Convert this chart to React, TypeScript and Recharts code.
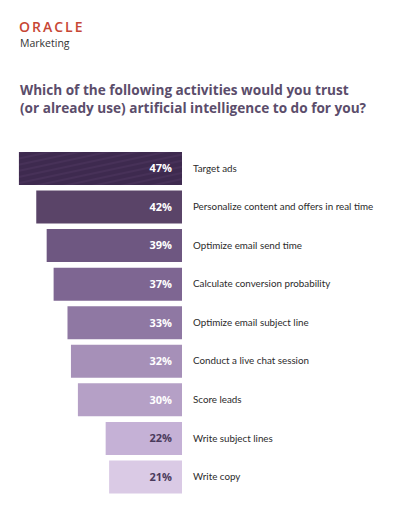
import React from "react";
import { BarChart, Bar, XAxis, YAxis, Cell, LabelList } from "recharts";

const activities = [
  "Target ads",
  "Personalize content and offers in real time",
  "Optimize email send time",
  "Calculate conversion probability",
  "Optimize email subject line",
  "Conduct a live chat session",
  "Score leads",
  "Write subject lines",
  "Write copy",
];
const shares = [47, 42, 39, 37, 33, 32, 30, 22, 21];

const fills = [
  "url(#topPattern)",
  "#5a4468",
  "#6e5781",
  "#7e6692",
  "#8f78a3",
  "#a690b8",
  "#b5a0c6",
  "#c5b1d6",
  "#dacae5",
];
const labelColors = ["#fff", "#fff", "#fff", "#fff", "#fff", "#fff", "#fff", "#4a3a5c", "#4a3a5c"];

const rows = activities.map((name, i) => ({ name, value: shares[i] }));

const FONT = "'Open Sans', Lato, sans-serif";

function PctLabel(props: any) {
  const { x, y, width, height, value, index } = props;
  const right = Math.max(x, x + width) - 10;
  const i = typeof index === "number" ? index : shares.indexOf(value);
  return (
    <text
      x={right}
      y={y + height / 2}
      dy="0.35em"
      textAnchor="end"
      fill={labelColors[i]}
      fontSize={11}
      fontWeight={700}
      fontFamily={FONT}
    >
      {value}%
    </text>
  );
}

function NameTick(props: any) {
  const { x, y, payload } = props;
  return (
    <text x={x} y={y} dy="0.35em" textAnchor="start" fill="#2b2b2b" fontSize={9.8} fontFamily="Lato, sans-serif">
      {payload.value}
    </text>
  );
}

export default function App() {
  return (
    <div style={{ position: "absolute", left: 0, top: 0, width: 394, height: 512, background: "#fff" }}>
      <div
        style={{
          position: "absolute",
          left: 19,
          top: 20,
          fontFamily: FONT,
          color: "#c74634",
          fontSize: 14,
          letterSpacing: 2,
          fontWeight: 600,
          lineHeight: "14px",
        }}
      >
        ORACLE
      </div>
      <div
        style={{
          position: "absolute",
          left: 20,
          top: 37,
          fontFamily: FONT,
          color: "#333",
          fontSize: 10.5,
          lineHeight: "13px",
        }}
      >
        Marketing
      </div>
      <div
        style={{
          position: "absolute",
          left: 20,
          top: 81,
          fontFamily: FONT,
          color: "#5b4d6b",
          fontSize: 13.6,
          fontWeight: 700,
          lineHeight: "18px",
        }}
      >
        Which of the following activities would you trust
        <br />
        (or already use) artificial intelligence to do for you?
      </div>
      <div style={{ position: "absolute", left: 0, top: 0 }}>
        <BarChart
          width={394}
          height={512}
          data={rows}
          layout="vertical"
          margin={{ top: 149, right: 0, bottom: 16, left: 0 }}
          barSize={33}
        >
          <defs>
            <pattern id="topPattern" width="6" height="6" patternUnits="userSpaceOnUse" patternTransform="rotate(-12)">
              <rect width="6" height="6" fill="#3e2a4f" />
              <line x1="0" y1="3" x2="6" y2="3" stroke="#6a5480" strokeWidth="0.6" opacity="0.6" />
            </pattern>
          </defs>
          <XAxis type="number" domain={[0, 52.45]} reversed hide />
          <YAxis
            type="category"
            dataKey="name"
            orientation="right"
            width={212}
            axisLine={false}
            tickLine={false}
            tickMargin={5}
            interval={0}
            tick={<NameTick />}
          />
          <Bar dataKey="value" isAnimationActive={false}>
            {rows.map((_, i) => (
              <Cell key={i} fill={fills[i]} />
            ))}
            <LabelList dataKey="value" content={<PctLabel />} />
          </Bar>
        </BarChart>
      </div>
    </div>
  );
}
